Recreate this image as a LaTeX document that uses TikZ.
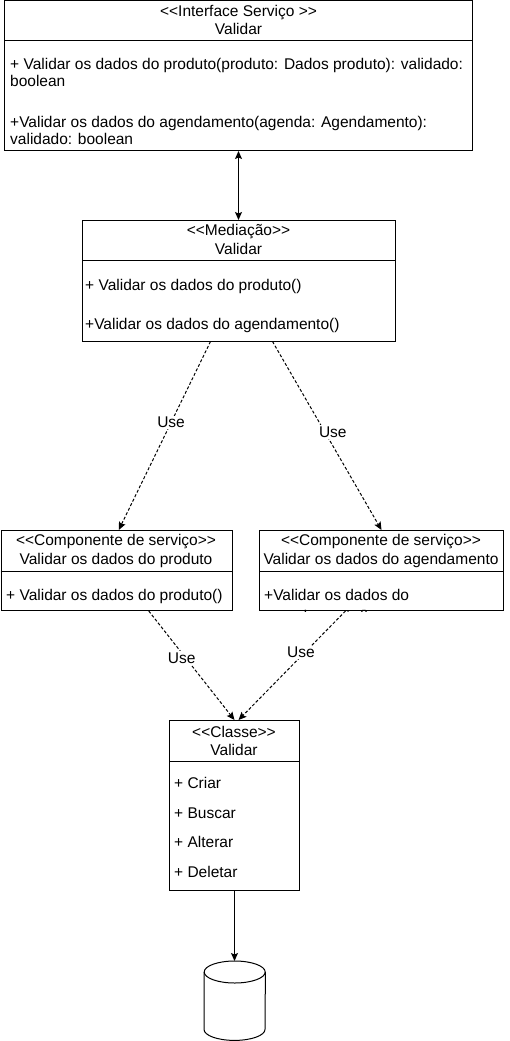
\documentclass[tikz,border=0pt]{standalone}
\usepackage{fontspec}
\newfontfamily\umlfont{Liberation Sans}
\usetikzlibrary{arrows.meta,calc}
\begin{document}
\begin{tikzpicture}[x=1pt,y=-1pt,
  box/.style={draw, line width=1pt, inner sep=0pt, anchor=north west},
  txt/.style={inner sep=0pt, font=\umlfont\fontsize{15.5}{18}\selectfont},
  ctxt/.style={txt, anchor=base},
  ltxt/.style={txt, anchor=base west},
  tip/.style={-{Stealth[length=8pt,width=7pt,inset=1.5pt]}},
  solidarrow/.style={line width=1pt, tip},
  bothway/.style={line width=1pt, {Stealth[length=8pt,width=7pt,inset=1.5pt]}-{Stealth[length=8pt,width=7pt,inset=1.5pt]}},
  dep/.style={line width=1pt, dash pattern=on 3pt off 2pt, tip},
  lbl/.style={txt, fill=white, inner sep=1.5pt},
  divider/.style={line width=1pt}
]
\useasboundingbox (0,0) rectangle (510,1041);

% Interface box
\node[box, minimum width=468pt, minimum height=150pt] (iface) at (4,0) {};
\draw[divider] (iface.west |- 0,41) -- (iface.east |- 0,41);
\node[ctxt] (ifaceS) at (238.5,17) {<<Interface Serviço >>};
\node[ctxt] (ifaceN) at (238.5,35) {Validar};
\node[ltxt] (ifaceO1) at (10,70) {+ Validar os dados do produto(produto: Dados produto): validado:};
\node[ltxt] (ifaceO1b) at (10,86) {boolean};
\node[ltxt] (ifaceO2) at (10,127) {+Validar os dados do agendamento(agenda: Agendamento):};
\node[ltxt] (ifaceO2b) at (10,144) {validado: boolean};

% Mediation box
\node[box, minimum width=313pt, minimum height=120.5pt] (med) at (82,220) {};
\draw[divider] (med.west |- 0,260) -- (med.east |- 0,260);
\node[ctxt] (medS) at (238.5,235) {<<Mediação>>};
\node[ctxt] (medN) at (238.5,254) {Validar};
\node[ltxt] (medO1) at (85,290) {+ Validar os dados do produto()};
\node[ltxt] (medO2) at (85,329) {+Validar os dados do agendamento()};

% Component left
\node[box, minimum width=231.5pt, minimum height=80pt] (compL) at (0.5,530) {};
\draw[divider] (compL.west |- 0,571) -- (compL.east |- 0,571);
\node[ctxt] (compLS) at (116,545) {<<Componente de serviço>>};
\node[ctxt] (compLN) at (116,564) {Validar os dados do produto};
\node[ltxt] (compLO) at (6,600) {+ Validar os dados do produto()};

% Component right
\node[box, minimum width=244pt, minimum height=80pt] (compR) at (259,530) {};
\draw[divider] (compR.west |- 0,571) -- (compR.east |- 0,571);
\node[ctxt] (compRS) at (381,545) {<<Componente de serviço>>};
\node[ctxt] (compRN) at (381,564) {Validar os dados do agendamento};
\node[ltxt] (compRO) at (264,600) {+Validar os dados do};
\begin{scope}
  \clip (compR.north west) rectangle (compR.south east);
  \node[ltxt] (compRO2) at (264,621) {agendamento()};
\end{scope}

% Class box
\node[box, minimum width=130pt, minimum height=170pt] (cls) at (169,720) {};
\draw[divider] (cls.west |- 0,761) -- (cls.east |- 0,761);
\node[ctxt] (clsS) at (234,737) {<<Classe>>};
\node[ctxt] (clsN) at (234,755) {Validar};
\node[ltxt] (clsO1) at (174,788) {+ Criar};
\node[ltxt] (clsO2) at (174,818) {+ Buscar};
\node[ltxt] (clsO3) at (174,847) {+ Alterar};
\node[ltxt] (clsO4) at (174,877) {+ Deletar};

% Database
\node[inner sep=0pt, minimum width=61pt, minimum height=79pt, anchor=north west] (db) at (204,961) {};
\draw[line width=1pt] ($(db.north)+(0,11)$) ellipse [x radius=30.5pt, y radius=11pt];
\draw[line width=1pt] ($(db.north west)+(0,11)$) -- ($(db.south west)+(0,-11)$)
  arc[start angle=180, end angle=360, x radius=30.5pt, y radius=11pt]
  -- ($(db.north east)+(0,11)$);

% Connectors
\draw[bothway] (iface.south) -- (iface.south |- med.north);
\draw[dep] ([xshift=-28.5pt]med.south) -- node[lbl, pos=0.43] {Use} ([xshift=2pt]compL.north);
\draw[dep] ([xshift=33.5pt]med.south) -- node[lbl, pos=0.48, xshift=8pt] {Use} (compR.north);
\draw[dep] ([xshift=32pt]compL.south) -- node[lbl, pos=0.43, xshift=-4pt] {Use} (cls.north);
\draw[dep] ([xshift=-36pt]compR.south) -- node[lbl, pos=0.38, xshift=-4pt] {Use} ([xshift=4pt]cls.north);
\draw[solidarrow] (cls.south) -- (cls.south |- db.north);
\end{tikzpicture}
\end{document}
